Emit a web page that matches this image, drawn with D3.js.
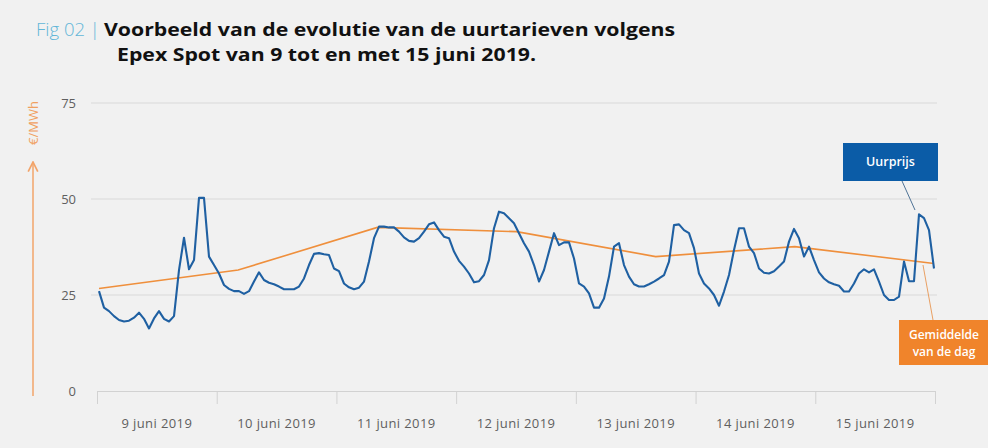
<!DOCTYPE html>
<meta charset="utf-8">
<style>
body { margin: 0; background: #f1f1f1; }
svg { font-family: "Open Sans", sans-serif; display: block; }
.grid line { stroke: #d9d9d9; stroke-width: 1; }
.x-axis path, .x-axis line { stroke: #d2d2d2; }
.y-label { fill: #5f5f5f; font-size: 13px; }
.day-label { fill: #5f5f5f; font-size: 13px; letter-spacing: 0.4px; }
.price { fill: none; stroke: #1f60a2; stroke-width: 2.1; stroke-linejoin: round; }
.avg { fill: none; stroke: #ef8f3c; stroke-width: 1.6; }
</style>
<body>
<div id="chart"></div>
<script src="https://d3js.org/d3.v7.min.js"></script>
<script>

// dagen op de x-as
var days = ["9 juni 2019", "10 juni 2019", "11 juni 2019", "12 juni 2019",
            "13 juni 2019", "14 juni 2019", "15 juni 2019"];

// uurprijs (EUR/MWh), 24 waarden per dag
var hourly = [
  26.0, 21.7, 20.8, 19.5, 18.5, 18.1, 18.3, 19.1, 20.4, 18.8, 16.3, 18.9,
  20.8, 18.8, 18.1, 19.5, 31.5, 39.9, 31.7, 34.1, 50.3, 50.3, 35.0, 32.8,
  30.6, 27.6, 26.6, 26.0, 26.0, 25.3, 26.0, 28.5, 30.9, 28.9, 28.2, 27.8,
  27.2, 26.5, 26.5, 26.5, 27.2, 29.3, 32.8, 35.7, 35.9, 35.6, 35.4, 31.9,
  31.2, 28.0, 27.0, 26.5, 26.9, 28.5, 33.7, 39.8, 42.8, 42.8, 42.6, 42.6,
  41.5, 40.0, 39.1, 38.9, 39.8, 41.5, 43.4, 43.9, 41.9, 40.2, 39.8, 36.3,
  33.9, 32.4, 30.6, 28.3, 28.6, 30.2, 34.1, 42.4, 46.7, 46.3, 45.0, 43.7,
  41.1, 38.5, 36.3, 32.8, 28.5, 31.5, 36.3, 41.1, 38.0, 38.7, 38.7, 34.5,
  28.0, 27.2, 25.4, 21.7, 21.7, 24.1, 29.8, 37.6, 38.5, 32.8, 29.8, 27.8,
  27.2, 27.2, 27.8, 28.5, 29.3, 30.2, 33.7, 43.2, 43.4, 41.9, 41.1, 37.2,
  30.6, 28.0, 26.7, 25.0, 22.2, 25.9, 30.2, 36.7, 42.4, 42.4, 37.6, 35.9,
  31.9, 30.8, 30.6, 31.2, 32.4, 33.7, 38.9, 42.2, 39.8, 35.0, 37.6, 34.1,
  30.9, 29.3, 28.3, 27.8, 27.4, 25.9, 25.9, 28.0, 30.6, 31.7, 30.9, 31.7,
  28.5, 25.0, 23.7, 23.7, 24.6, 33.7, 28.6, 28.6, 46.0, 45.0, 41.9, 31.9
];

// gemiddelde van de dag
var dailyAvg = [26.7, 31.5, 42.6, 41.5, 35.0, 37.6, 33.2];

var yTicks = [0, 25, 50, 75];

var width = 988, height = 448;

var svg = d3.select("#chart").append("svg")
    .attr("width", width)
    .attr("height", height);

svg.append("rect")
    .attr("width", width)
    .attr("height", height)
    .attr("fill", "#f1f1f1");

// schalen
var y = d3.scaleLinear().domain([0, 75]).range([391, 103]);
var xHour = d3.scaleLinear().domain([0, hourly.length - 1]).range([99, 934]);
var xDay = d3.scaleLinear().domain([0, days.length]).range([97, 935]);
var xAvg = d3.scalePoint().domain(days).range([99, 934]);

// titel
var title = svg.append("text").attr("y", 36).style("font-size", "18.5px");
title.append("tspan")
    .attr("x", 36)
    .attr("fill", "#62b6d8")
    .style("font-weight", 300)
    .text("Fig 02 | ");
title.append("tspan")
    .attr("x", 104)
    .attr("fill", "#111")
    .style("font-weight", 700)
    .attr("textLength", 571)
    .attr("lengthAdjust", "spacingAndGlyphs")
    .text("Voorbeeld van de evolutie van de uurtarieven volgens");
svg.append("text")
    .attr("x", 117)
    .attr("y", 61)
    .attr("fill", "#111")
    .style("font-size", "18.5px")
    .style("font-weight", 700)
    .attr("textLength", 419)
    .attr("lengthAdjust", "spacingAndGlyphs")
    .text("Epex Spot van 9 tot en met 15 juni 2019.");

// rasterlijnen
svg.append("g")
    .attr("class", "grid")
  .selectAll("line")
    .data(yTicks.filter(function(d) { return d > 0; }))
  .enter().append("line")
    .attr("x1", 91)
    .attr("x2", 937)
    .attr("y1", function(d) { return y(d); })
    .attr("y2", function(d) { return y(d); });

svg.append("g")
  .selectAll("text")
    .data(yTicks)
  .enter().append("text")
    .attr("class", "y-label")
    .attr("x", 76)
    .attr("y", function(d) { return y(d); })
    .attr("dy", "0.35em")
    .attr("text-anchor", "end")
    .text(function(d) { return d; });

// x-as met streepjes op de dagovergangen, labels in het midden
var xAxis = d3.axisBottom(xDay)
    .tickValues(d3.range(days.length + 1))
    .tickSize(13)
    .tickSizeOuter(0)
    .tickFormat("");

svg.append("g")
    .attr("class", "x-axis")
    .attr("transform", "translate(0," + y(0) + ")")
    .call(xAxis);

svg.append("g")
  .selectAll("text")
    .data(days)
  .enter().append("text")
    .attr("class", "day-label")
    .attr("x", function(d, i) { return xDay(i + 0.5); })
    .attr("y", 428)
    .attr("text-anchor", "middle")
    .text(function(d) { return d; });

// y-as titel met pijl
svg.append("defs").append("marker")
    .attr("id", "arrow")
    .attr("viewBox", "0 0 10 10")
    .attr("refX", 9)
    .attr("refY", 5)
    .attr("markerWidth", 8)
    .attr("markerHeight", 8)
    .attr("orient", "auto")
  .append("path")
    .attr("d", "M1,1 L9,5 L1,9")
    .attr("fill", "none")
    .attr("stroke", "#f2a46a")
    .attr("stroke-width", 1.4);

svg.append("line")
    .attr("x1", 33).attr("x2", 33)
    .attr("y1", 396).attr("y2", 162)
    .attr("stroke", "#f2a46a")
    .attr("stroke-width", 1.5)
    .attr("marker-end", "url(#arrow)");

svg.append("text")
    .attr("transform", "translate(38,123) rotate(-90)")
    .attr("text-anchor", "middle")
    .attr("fill", "#f0a060")
    .style("font-size", "13px")
    .text("€/MWh");

// lijnen
var priceLine = d3.line()
    .x(function(d, i) { return xHour(i); })
    .y(function(d) { return y(d); });

var avgLine = d3.line()
    .x(function(d, i) { return xAvg(days[i]); })
    .y(function(d) { return y(d); });

svg.append("path")
    .datum(dailyAvg)
    .attr("class", "avg")
    .attr("d", avgLine);

svg.append("path")
    .datum(hourly)
    .attr("class", "price")
    .attr("d", priceLine);

// annotaties
svg.append("line")
    .attr("x1", 902).attr("y1", 181)
    .attr("x2", 915).attr("y2", 210)
    .attr("stroke", "#4f7396")
    .attr("stroke-width", 1);

svg.append("rect")
    .attr("x", 843).attr("y", 143)
    .attr("width", 95).attr("height", 38)
    .attr("fill", "#0b5ca7");

svg.append("text")
    .attr("x", 890.5).attr("y", 166)
    .attr("text-anchor", "middle")
    .attr("fill", "#fff")
    .style("font-size", "12.5px")
    .style("font-weight", 600)
    .text("Uurprijs");

svg.append("line")
    .attr("x1", 923).attr("y1", 265)
    .attr("x2", 933).attr("y2", 320)
    .attr("stroke", "#e9a063")
    .attr("stroke-width", 1);

svg.append("rect")
    .attr("x", 899).attr("y", 320)
    .attr("width", 89).attr("height", 45)
    .attr("fill", "#f0842b");

svg.append("text")
    .attr("x", 944).attr("y", 339)
    .attr("text-anchor", "middle")
    .attr("fill", "#fff")
    .style("font-size", "12px")
    .style("font-weight", 600)
    .text("Gemiddelde");

svg.append("text")
    .attr("x", 944).attr("y", 356)
    .attr("text-anchor", "middle")
    .attr("fill", "#fff")
    .style("font-size", "12px")
    .style("font-weight", 600)
    .text("van de dag");

</script>
</body>
